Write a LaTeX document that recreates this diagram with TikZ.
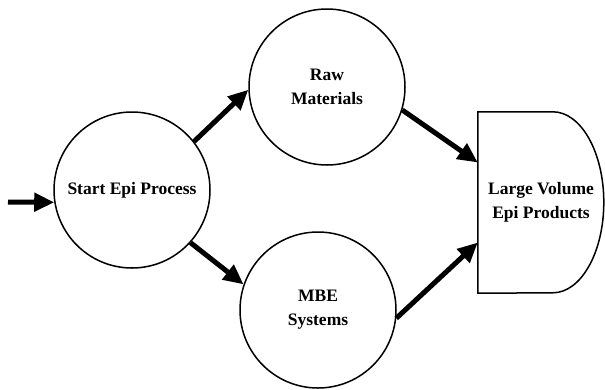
\documentclass[tikz,border=0pt]{standalone}
\usepackage{fontspec}
\setmainfont{Liberation Serif}
\usetikzlibrary{arrows.meta}

\begin{document}
\begin{tikzpicture}[x=1pt,y=-1pt,font=\fontsize{17.5}{24}\selectfont\bfseries]

      \useasboundingbox (0,0) rectangle (605,389);

      \begin{scope}[every node/.style={circle,draw,line width=1.5pt,minimum size=156pt,inner sep=0pt,align=center}]
        \node (start) at (132,190) {Start Epi Process};
        \node (raw)   at (327,87)  {Raw\\Materials};
        \node (mbe)   at (318,310) {MBE\\Systems};
      \end{scope}

      \node[minimum width=126pt,minimum height=181pt,inner sep=0pt,align=center] (large) at (541,202.5) {Large Volume\\Epi Products};
      \draw[line width=1.5pt] (large.north west) -- ++(75,0)
        arc[start angle=90,end angle=-90,x radius=51pt,y radius=90.5pt]
        -- (large.south west) -- cycle;

      \coordinate (in) at (8,202);

      \begin{scope}[every edge/.style={draw,line width=5pt,-{Triangle[length=20pt,width=18pt]}}]
        \path (in)        edge (start.189);
        \path (start.38)  edge (raw.182);
        \path (start.-42) edge (mbe.161);
        \path (raw.-17)   edge ([yshift=40pt]large.west);
        \path (mbe.-6)    edge ([yshift=-40pt]large.west);
      \end{scope}

    \end{tikzpicture}
\end{document}
